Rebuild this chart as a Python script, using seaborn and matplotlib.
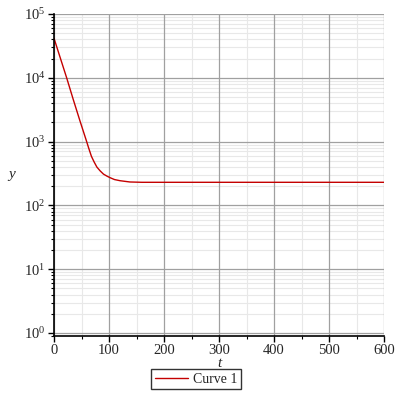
import numpy as np
import pandas as pd
import matplotlib
matplotlib.use("Agg")
import matplotlib.pyplot as plt
import matplotlib.ticker as mticker
import seaborn as sns

# Data (log10 of y)
t_vals = [0, 10, 23, 35, 47, 59, 63, 68, 73, 78, 84, 90, 96, 102, 110, 120, 138, 160, 200,
          300, 400, 500, 600]
log_y = [4.62, 4.35, 4.0, 3.66, 3.33, 3.01, 2.90, 2.77, 2.68, 2.60, 2.54, 2.49, 2.46, 2.434,
         2.405, 2.387, 2.367, 2.362, 2.362, 2.362, 2.362, 2.362, 2.362]
y_vals = [10 ** v for v in log_y]
series_name = "Curve 1"

df = pd.DataFrame({"t": t_vals, "y": y_vals, "series": series_name})

sns.set_style("white")
plt.rcParams['font.family'] = ['Liberation Serif', 'DejaVu Serif']

fig = plt.figure(figsize=(4, 4), dpi=100)
pos = [0.135, 0.16, 0.825, 0.805]

# background axes carrying only the light minor grid
ax_bg = fig.add_axes(pos, zorder=0)
ax = fig.add_axes(pos, zorder=1, sharex=ax_bg, sharey=ax_bg)
ax.patch.set_alpha(0)

sns.lineplot(data=df, x="t", y="y", hue="series", palette=["#c40000"], ax=ax, linewidth=1.0)
ax.set_yscale("log")
ax.set_xlim(0, 600)
ax.set_ylim(0.897, 1e5)

for a in (ax, ax_bg):
    a.xaxis.set_major_locator(mticker.MultipleLocator(100))
    a.xaxis.set_minor_locator(mticker.MultipleLocator(50))
    a.yaxis.set_major_locator(mticker.LogLocator(base=10, numticks=10))
    a.yaxis.set_minor_locator(mticker.LogLocator(base=10, subs=np.arange(2, 10), numticks=20))
    a.yaxis.set_minor_formatter(mticker.NullFormatter())

ax_bg.grid(which="minor", color="#e8e8e8", linewidth=0.8)
ax_bg.grid(which="major", visible=False)
ax_bg.tick_params(which="both", left=False, bottom=False, labelleft=False, labelbottom=False)
for s in ax_bg.spines.values():
    s.set_visible(False)

ax.grid(which="major", color="#a0a0a0", linewidth=0.9)
ax.grid(which="minor", visible=False)
ax.set_axisbelow(True)

for side in ["top", "right"]:
    ax.spines[side].set_visible(False)
for side in ["left", "bottom"]:
    ax.spines[side].set_color("black")
    ax.spines[side].set_linewidth(1.2)

ax.tick_params(axis="both", which="major", direction="out", length=4, width=1, color="black",
               labelsize=10.5, bottom=True, left=True, pad=2)
ax.tick_params(axis="both", which="minor", direction="out", length=2.5, width=0.8, color="black",
               bottom=True, left=True)

ax.set_xlabel("t", style="italic", fontsize=11, labelpad=0)
ax.set_ylabel("y", style="italic", fontsize=11, rotation=0, va="center", ha="center")
ax.yaxis.set_label_coords(-0.128, 0.5)

leg = ax.legend(loc="upper center", bbox_to_anchor=(0.43, -0.103), frameon=True, fancybox=False,
                fontsize=10, handlelength=2.4, borderpad=0.25, handletextpad=0.35,
                borderaxespad=0)
leg.get_frame().set_edgecolor("black")
leg.get_frame().set_linewidth(1.0)

fig.savefig("out.png", dpi=100)
